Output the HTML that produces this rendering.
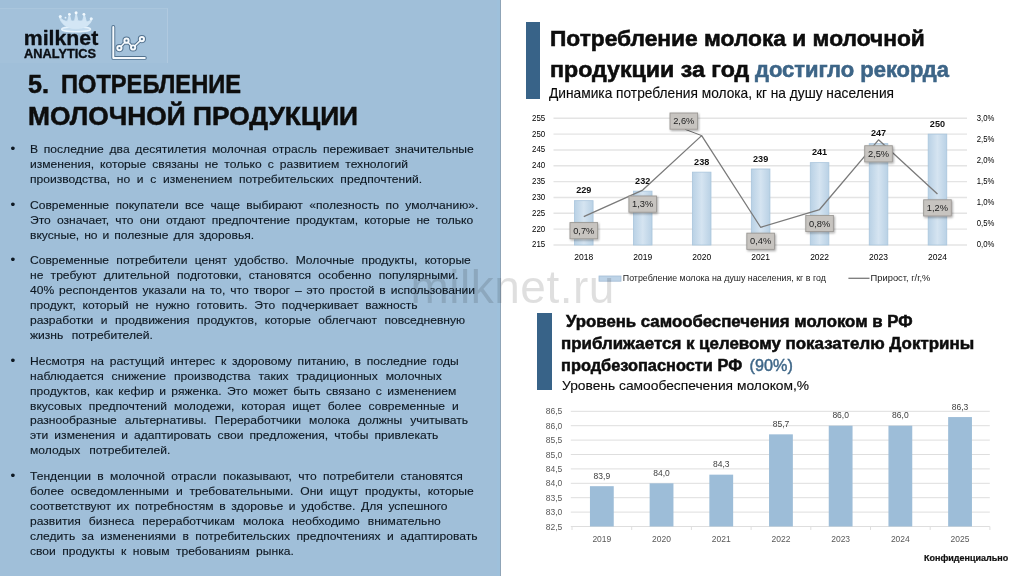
<!DOCTYPE html>
<html lang="ru">
<head>
<meta charset="utf-8">
<title>5. Потребление молочной продукции</title>
<style>
html,body{margin:0;padding:0}
body{width:1024px;height:576px;position:relative;overflow:hidden;background:#fff;font-family:"Liberation Sans",sans-serif;color:#111}
.panel{position:absolute;left:0;top:0;width:501px;height:576px;background:linear-gradient(90deg,#a0bfd9 0,#a0bfd9 497px,#9ec0db 497px,#9ec0db 500px,#8fa4b7 500px,#8fa4b7 501px)}
.logobox{position:absolute;left:0;top:8px;width:167px;height:54px;background:rgba(255,255,255,.03);border-top:1px solid rgba(255,255,255,.08);border-right:1px solid rgba(255,255,255,.14)}
.t{position:absolute;white-space:pre;line-height:1;transform-origin:0 0;display:block}
.t b{font-weight:inherit}
li .t{-webkit-text-stroke:.12px #0e1822;color:#0e1822}
ul,li,h1,h2,p{margin:0;padding:0;list-style:none;font-weight:normal;font-size:inherit}
.bar{position:absolute;background:#386388}
.wm{position:absolute;left:410.5px;top:263.5px;font-size:46px;line-height:1;color:rgba(0,0,0,.125);white-space:pre;letter-spacing:.5px}
</style>
</head>
<body>
<section class="panel">
<div class="logobox"></div>
<svg class="logo" width="180" height="70" viewBox="0 0 180 70" style="position:absolute;left:0;top:0" font-family="Liberation Sans, sans-serif">
<g>
<ellipse cx="76.1" cy="29.2" rx="14.4" ry="2.5" fill="#c3dbee" stroke="#e6f2fb" stroke-width="1.5"/>
<path d="M59.4 16.4 C60.5 24 67.5 28.6 76 28.6 C84.5 28.6 91 25 92 18.6 C90.5 21 88 22 86.3 21.6 L84.3 14.2 L82.6 20.8 C81 21.2 79.2 21.2 77.8 20.8 L76.2 12.6 L74.6 20.8 C73.2 21.2 72 21.2 71 20.9 L69.4 14.2 L67.6 21.3 C64.5 21.5 61.2 19.6 59.4 16.4 Z" fill="#d3e6f5" stroke="#d3e6f5" stroke-width="0.9" stroke-linejoin="round"/>
<circle cx="60.3" cy="16.6" r="1.5" fill="#ecf6fd"/><circle cx="91.2" cy="18.8" r="1.5" fill="#ecf6fd"/><circle cx="69.4" cy="14.3" r="1.4" fill="#f2f9fe"/><circle cx="83.9" cy="14.3" r="1.4" fill="#f2f9fe"/><circle cx="76.1" cy="12.7" r="1.5" fill="#f6fbff"/><circle cx="65.5" cy="17.7" r="0.9" fill="#e6f2fb"/>
</g>
<text x="23.7" y="45.1" font-size="19.7" font-weight="700" fill="#0b0f14" stroke="#0b0f14" stroke-width="0.3" stroke-linejoin="round" textLength="74.6" lengthAdjust="spacingAndGlyphs">milknet</text>
<text x="24.1" y="57.9" font-size="12.2" font-weight="700" fill="#0b0f14" stroke="#0b0f14" stroke-width="0.35" stroke-linejoin="round" textLength="72" lengthAdjust="spacingAndGlyphs">ANALYTICS</text>
<g fill="none" stroke="#52728f" stroke-width="3.9" stroke-linecap="round" stroke-linejoin="round"><path d="M113.3 27 V57.9 H144.8"/><path d="M119.4 48.1 L126.5 40.7 L133.1 47.5 L141.9 39.1" stroke-width="3.4"/></g>
<circle cx="119.4" cy="48.1" r="4.1" fill="#52728f"/>
<circle cx="126.5" cy="40.7" r="4.1" fill="#52728f"/>
<circle cx="133.1" cy="47.5" r="4.1" fill="#52728f"/>
<circle cx="141.9" cy="39.1" r="4.1" fill="#52728f"/>
<g fill="none" stroke="#f6fafd" stroke-linecap="round" stroke-linejoin="round"><path d="M113.3 27 V57.9 H144.8" stroke-width="2"/><path d="M119.4 48.1 L126.5 40.7 L133.1 47.5 L141.9 39.1" stroke-width="1.5"/></g>
<circle cx="119.4" cy="48.1" r="3.1" fill="#f6fafd"/><circle cx="119.4" cy="48.1" r="1.15" fill="#4f6f8b"/>
<circle cx="126.5" cy="40.7" r="3.1" fill="#f6fafd"/><circle cx="126.5" cy="40.7" r="1.15" fill="#4f6f8b"/>
<circle cx="133.1" cy="47.5" r="3.1" fill="#f6fafd"/><circle cx="133.1" cy="47.5" r="1.15" fill="#4f6f8b"/>
<circle cx="141.9" cy="39.1" r="3.1" fill="#f6fafd"/><circle cx="141.9" cy="39.1" r="1.15" fill="#4f6f8b"/>
</svg>
<h1><span class="t" style="left:28.00px;top:71.67px;font-size:25.2px;font-weight:700;color:#0d0d0d;-webkit-text-stroke:0.5px;">5.</span><span class="t" style="left:60.80px;top:71.67px;font-size:25.2px;font-weight:700;color:#0d0d0d;transform:scaleX(0.9388);-webkit-text-stroke:0.5px;">ПОТРЕБЛЕНИЕ</span><span class="t" style="left:28.00px;top:103.67px;font-size:25.2px;font-weight:700;color:#0d0d0d;transform:scaleX(1.0459);-webkit-text-stroke:0.5px;">МОЛОЧНОЙ ПРОДУКЦИИ</span></h1>
<ul>
<li><span class="t" style="left:10.50px;top:142.22px;font-size:13.5px;">•</span><span class="t" style="left:29.70px;top:144.32px;font-size:11.2px;transform:scaleX(1.0800);word-spacing:2.22px;">В последние два десятилетия молочная отрасль переживает значительные</span><span class="t" style="left:29.70px;top:159.32px;font-size:11.2px;transform:scaleX(1.0800);word-spacing:2.52px;">изменения, которые связаны не только с развитием технологий</span><span class="t" style="left:29.70px;top:174.32px;font-size:11.2px;transform:scaleX(1.0800);word-spacing:3.12px;">производства, но и с изменением потребительских предпочтений.</span></li>
<li><span class="t" style="left:10.50px;top:198.02px;font-size:13.5px;">•</span><span class="t" style="left:29.70px;top:200.12px;font-size:11.2px;transform:scaleX(1.0800);word-spacing:2.78px;">Современные покупатели все чаще выбирают «полезность по умолчанию».</span><span class="t" style="left:29.70px;top:215.12px;font-size:11.2px;transform:scaleX(1.0800);word-spacing:2.54px;">Это означает, что они отдают предпочтение продуктам, которые не только</span><span class="t" style="left:29.70px;top:230.02px;font-size:11.2px;transform:scaleX(1.0800);word-spacing:1.50px;">вкусные, но и полезные для здоровья.</span></li>
<li><span class="t" style="left:10.50px;top:252.92px;font-size:13.5px;">•</span><span class="t" style="left:29.70px;top:255.02px;font-size:11.2px;transform:scaleX(1.0800);word-spacing:3.64px;">Современные потребители ценят удобство. Молочные продукты, которые</span><span class="t" style="left:29.70px;top:270.02px;font-size:11.2px;transform:scaleX(1.0800);word-spacing:3.56px;">не требуют длительной подготовки, становятся особенно популярными.</span><span class="t" style="left:29.70px;top:285.02px;font-size:11.2px;transform:scaleX(1.0800);word-spacing:1.45px;">40% респондентов указали на то, что творог – это простой в использовании</span><span class="t" style="left:29.70px;top:300.02px;font-size:11.2px;transform:scaleX(1.0800);word-spacing:3.12px;">продукт, который не нужно готовить. Это подчеркивает важность</span><span class="t" style="left:29.70px;top:315.02px;font-size:11.2px;transform:scaleX(1.0800);word-spacing:3.82px;">разработки и продвижения продуктов, которые облегчают повседневную</span><span class="t" style="left:29.70px;top:330.02px;font-size:11.2px;transform:scaleX(1.0800);word-spacing:4.63px;">жизнь потребителей.</span></li>
<li><span class="t" style="left:10.50px;top:353.92px;font-size:13.5px;">•</span><span class="t" style="left:29.70px;top:356.02px;font-size:11.2px;transform:scaleX(1.0800);word-spacing:2.20px;">Несмотря на растущий интерес к здоровому питанию, в последние годы</span><span class="t" style="left:29.70px;top:370.92px;font-size:11.2px;transform:scaleX(1.0800);word-spacing:4.22px;">наблюдается снижение производства таких традиционных молочных</span><span class="t" style="left:29.70px;top:385.72px;font-size:11.2px;transform:scaleX(1.0800);word-spacing:1.83px;">продуктов, как кефир и ряженка. Это может быть связано с изменением</span><span class="t" style="left:29.70px;top:400.52px;font-size:11.2px;transform:scaleX(1.0800);word-spacing:3.36px;">вкусовых предпочтений молодежи, которая ищет более современные и</span><span class="t" style="left:29.70px;top:415.32px;font-size:11.2px;transform:scaleX(1.0800);word-spacing:4.37px;">разнообразные альтернативы. Переработчики молока должны учитывать</span><span class="t" style="left:29.70px;top:430.22px;font-size:11.2px;transform:scaleX(1.0800);word-spacing:2.60px;">эти изменения и адаптировать свои предложения, чтобы привлекать</span><span class="t" style="left:29.70px;top:445.02px;font-size:11.2px;transform:scaleX(1.0800);word-spacing:5.25px;">молодых потребителей.</span></li>
<li><span class="t" style="left:10.50px;top:468.92px;font-size:13.5px;">•</span><span class="t" style="left:29.70px;top:471.02px;font-size:11.2px;transform:scaleX(1.0800);word-spacing:2.78px;">Тенденции в молочной отрасли показывают, что потребители становятся</span><span class="t" style="left:29.70px;top:486.02px;font-size:11.2px;transform:scaleX(1.0800);word-spacing:3.18px;">более осведомленными и требовательными. Они ищут продукты, которые</span><span class="t" style="left:29.70px;top:501.02px;font-size:11.2px;transform:scaleX(1.0800);word-spacing:2.11px;">соответствуют их потребностям в здоровье и удобстве. Для успешного</span><span class="t" style="left:29.70px;top:516.02px;font-size:11.2px;transform:scaleX(1.0800);word-spacing:4.32px;">развития бизнеса переработчикам молока необходимо внимательно</span><span class="t" style="left:29.70px;top:531.02px;font-size:11.2px;transform:scaleX(1.0800);word-spacing:2.85px;">следить за изменениями в потребительских предпочтениях и адаптировать</span><span class="t" style="left:29.70px;top:546.02px;font-size:11.2px;transform:scaleX(1.0800);word-spacing:2.82px;">свои продукты к новым требованиям рынка.</span></li>
</ul>
</section>
<section class="right">
<div class="bar" style="left:526px;top:22.2px;width:13.9px;height:76.5px"></div>
<h2><span class="t" style="left:549.50px;top:29.38px;font-size:21.4px;font-weight:700;color:#0d0d0d;transform:scaleX(1.0635);-webkit-text-stroke:0.55px;">Потребление молока и молочной</span><span class="t" style="left:549.50px;top:60.48px;font-size:21.4px;font-weight:700;color:#0d0d0d;transform:scaleX(1.0843);-webkit-text-stroke:0.55px;">продукции за год</span><span class="t" style="left:754.60px;top:60.48px;font-size:21.4px;font-weight:700;color:#3d6587;transform:scaleX(1.0262);-webkit-text-stroke:0.55px;">достигло рекорда</span></h2>
<p><span class="t" style="left:549.30px;top:85.81px;font-size:14.4px;color:#0a0a0a;transform:scaleX(0.9546);-webkit-text-stroke:0.12px;">Динамика потребления молока, кг на душу населения</span></p>
<svg class="chart" width="1024" height="576" viewBox="0 0 1024 576" style="position:absolute;left:0;top:0" font-family="Liberation Sans, sans-serif">
<defs><linearGradient id="bg1" x1="0" x2="1" y1="0" y2="0"><stop offset="0" stop-color="#b9d1e5"/><stop offset="0.5" stop-color="#d5e4f1"/><stop offset="1" stop-color="#b9d1e5"/></linearGradient><filter id="sh" x="-20%" y="-20%" width="150%" height="160%"><feDropShadow dx="1" dy="1.2" stdDeviation="0.9" flood-color="#000" flood-opacity="0.35"/></filter></defs>
<g stroke="#e4e4e4" stroke-width="1.4">
<line x1="553.5" x2="967" y1="245.00" y2="245.00"/>
<line x1="553.5" x2="967" y1="229.16" y2="229.16"/>
<line x1="553.5" x2="967" y1="213.32" y2="213.32"/>
<line x1="553.5" x2="967" y1="197.49" y2="197.49"/>
<line x1="553.5" x2="967" y1="181.65" y2="181.65"/>
<line x1="553.5" x2="967" y1="165.81" y2="165.81"/>
<line x1="553.5" x2="967" y1="149.97" y2="149.97"/>
<line x1="553.5" x2="967" y1="134.14" y2="134.14"/>
<line x1="553.5" x2="967" y1="118.30" y2="118.30"/>
</g>
<g font-size="9.1" fill="#000" text-anchor="end">
<text x="545.2" y="247.45" textLength="13.2" lengthAdjust="spacingAndGlyphs">215</text>
<text x="545.2" y="231.61" textLength="13.2" lengthAdjust="spacingAndGlyphs">220</text>
<text x="545.2" y="215.77" textLength="13.2" lengthAdjust="spacingAndGlyphs">225</text>
<text x="545.2" y="199.94" textLength="13.2" lengthAdjust="spacingAndGlyphs">230</text>
<text x="545.2" y="184.10" textLength="13.2" lengthAdjust="spacingAndGlyphs">235</text>
<text x="545.2" y="168.26" textLength="13.2" lengthAdjust="spacingAndGlyphs">240</text>
<text x="545.2" y="152.42" textLength="13.2" lengthAdjust="spacingAndGlyphs">245</text>
<text x="545.2" y="136.59" textLength="13.2" lengthAdjust="spacingAndGlyphs">250</text>
<text x="545.2" y="120.75" textLength="13.2" lengthAdjust="spacingAndGlyphs">255</text>
</g>
<g font-size="9.1" fill="#000">
<text x="976.7" y="247.35" textLength="17.6" lengthAdjust="spacingAndGlyphs">0,0%</text>
<text x="976.7" y="226.23" textLength="17.6" lengthAdjust="spacingAndGlyphs">0,5%</text>
<text x="976.7" y="205.12" textLength="17.6" lengthAdjust="spacingAndGlyphs">1,0%</text>
<text x="976.7" y="184.00" textLength="17.6" lengthAdjust="spacingAndGlyphs">1,5%</text>
<text x="976.7" y="162.88" textLength="17.6" lengthAdjust="spacingAndGlyphs">2,0%</text>
<text x="976.7" y="141.77" textLength="17.6" lengthAdjust="spacingAndGlyphs">2,5%</text>
<text x="976.7" y="120.65" textLength="17.6" lengthAdjust="spacingAndGlyphs">3,0%</text>
</g>
<g fill="url(#bg1)" stroke="#a9c5dc" stroke-width="0.8">
<rect x="574.48" y="200.66" width="18.60" height="44.34"/>
<rect x="633.42" y="191.15" width="18.60" height="53.85"/>
<rect x="692.38" y="172.15" width="18.60" height="72.85"/>
<rect x="751.33" y="168.98" width="18.60" height="76.02"/>
<rect x="810.28" y="162.64" width="18.60" height="82.36"/>
<rect x="869.23" y="143.64" width="18.60" height="101.36"/>
<rect x="928.17" y="134.14" width="18.60" height="110.86"/>
</g>
<g font-size="8.7" font-weight="700" fill="#111" text-anchor="middle">
<text x="583.77" y="193.35" textLength="15.2" lengthAdjust="spacingAndGlyphs">229</text>
<text x="642.72" y="183.85" textLength="15.2" lengthAdjust="spacingAndGlyphs">232</text>
<text x="701.67" y="164.85" textLength="15.2" lengthAdjust="spacingAndGlyphs">238</text>
<text x="760.62" y="161.68" textLength="15.2" lengthAdjust="spacingAndGlyphs">239</text>
<text x="819.58" y="155.34" textLength="15.2" lengthAdjust="spacingAndGlyphs">241</text>
<text x="878.52" y="136.34" textLength="15.2" lengthAdjust="spacingAndGlyphs">247</text>
<text x="937.47" y="126.84" textLength="15.2" lengthAdjust="spacingAndGlyphs">250</text>
</g>
<g font-size="9.1" fill="#000" text-anchor="middle">
<text x="583.77" y="260" textLength="18.9" lengthAdjust="spacingAndGlyphs">2018</text>
<text x="642.72" y="260" textLength="18.9" lengthAdjust="spacingAndGlyphs">2019</text>
<text x="701.67" y="260" textLength="18.9" lengthAdjust="spacingAndGlyphs">2020</text>
<text x="760.62" y="260" textLength="18.9" lengthAdjust="spacingAndGlyphs">2021</text>
<text x="819.58" y="260" textLength="18.9" lengthAdjust="spacingAndGlyphs">2022</text>
<text x="878.52" y="260" textLength="18.9" lengthAdjust="spacingAndGlyphs">2023</text>
<text x="937.47" y="260" textLength="18.9" lengthAdjust="spacingAndGlyphs">2024</text>
</g>
<polyline points="583.77,216.70 642.72,190.10 701.67,135.62 760.62,227.26 819.58,209.52 878.52,139.84 937.47,193.90" fill="none" stroke="#7a7a7a" stroke-width="1.3" stroke-linejoin="round"/>
<line x1="685" y1="129.3" x2="701.67" y2="135.62" stroke="#6e6e6e" stroke-width="1"/>
<g>
<rect x="569.98" y="222.60" width="27.60" height="16.20" fill="#c7c4c0" stroke="#9b9894" stroke-width="0.9" filter="url(#sh)"/>
<text x="583.77" y="233.90" font-size="9.3" fill="#222" text-anchor="middle">0,7%</text>
<rect x="628.92" y="196.00" width="27.60" height="16.20" fill="#c7c4c0" stroke="#9b9894" stroke-width="0.9" filter="url(#sh)"/>
<text x="642.72" y="207.30" font-size="9.3" fill="#222" text-anchor="middle">1,3%</text>
<rect x="670.00" y="113.00" width="27.60" height="16.20" fill="#c7c4c0" stroke="#9b9894" stroke-width="0.9" filter="url(#sh)"/>
<text x="683.80" y="124.30" font-size="9.3" fill="#222" text-anchor="middle">2,6%</text>
<rect x="746.83" y="233.16" width="27.60" height="16.20" fill="#c7c4c0" stroke="#9b9894" stroke-width="0.9" filter="url(#sh)"/>
<text x="760.62" y="244.46" font-size="9.3" fill="#222" text-anchor="middle">0,4%</text>
<rect x="805.78" y="215.42" width="27.60" height="16.20" fill="#c7c4c0" stroke="#9b9894" stroke-width="0.9" filter="url(#sh)"/>
<text x="819.58" y="226.72" font-size="9.3" fill="#222" text-anchor="middle">0,8%</text>
<rect x="864.73" y="145.74" width="27.60" height="16.20" fill="#c7c4c0" stroke="#9b9894" stroke-width="0.9" filter="url(#sh)"/>
<text x="878.52" y="157.04" font-size="9.3" fill="#222" text-anchor="middle">2,5%</text>
<rect x="923.67" y="199.80" width="27.60" height="16.20" fill="#c7c4c0" stroke="#9b9894" stroke-width="0.9" filter="url(#sh)"/>
<text x="937.47" y="211.10" font-size="9.3" fill="#222" text-anchor="middle">1,2%</text>
</g>
<rect x="599" y="276" width="22" height="5.2" fill="#bdd3e7" stroke="#a3bdd6" stroke-width="0.8"/>
<text x="622.8" y="281" font-size="8.6" fill="#1a1a1a" textLength="203" lengthAdjust="spacingAndGlyphs">Потребление молока на душу населения, кг в год</text>
<line x1="848.4" x2="869.5" y1="278.3" y2="278.3" stroke="#7a7a7a" stroke-width="1.3"/>
<text x="870.6" y="281" font-size="8.6" fill="#1a1a1a" textLength="59.8" lengthAdjust="spacingAndGlyphs">Прирост, г/г,%</text>
</svg>
<div class="bar" style="left:537px;top:313px;width:15px;height:76.5px"></div>
<h2><span class="t" style="left:565.50px;top:313.59px;font-size:15.6px;font-weight:700;color:#0d0d0d;transform:scaleX(1.0760);-webkit-text-stroke:0.5px;">Уровень самообеспечения молоком в РФ</span><span class="t" style="left:561.30px;top:335.89px;font-size:15.6px;font-weight:700;color:#0d0d0d;transform:scaleX(1.0848);-webkit-text-stroke:0.5px;">приближается к целевому показателю Доктрины</span><span class="t" style="left:561.30px;top:357.89px;font-size:15.6px;font-weight:700;color:#0d0d0d;transform:scaleX(1.0493);-webkit-text-stroke:0.5px;">продбезопасности РФ</span><span class="t" style="left:749.60px;top:357.39px;font-size:16.2px;color:#3f6788;-webkit-text-stroke:0.45px;">(90%)</span></h2>
<p><span class="t" style="left:561.50px;top:379.50px;font-size:12.4px;color:#0a0a0a;transform:scaleX(1.1136);-webkit-text-stroke:0.12px;">Уровень самообеспечения молоком,%</span></p>
<svg class="chart" width="1024" height="576" viewBox="0 0 1024 576" style="position:absolute;left:0;top:0" font-family="Liberation Sans, sans-serif">
<g stroke="#dedede" stroke-width="1">
<line x1="570.8" x2="989.8" y1="526.50" y2="526.50"/>
<line x1="570.8" x2="989.8" y1="512.10" y2="512.10"/>
<line x1="570.8" x2="989.8" y1="497.70" y2="497.70"/>
<line x1="570.8" x2="989.8" y1="483.30" y2="483.30"/>
<line x1="570.8" x2="989.8" y1="468.90" y2="468.90"/>
<line x1="570.8" x2="989.8" y1="454.50" y2="454.50"/>
<line x1="570.8" x2="989.8" y1="440.10" y2="440.10"/>
<line x1="570.8" x2="989.8" y1="425.70" y2="425.70"/>
<line x1="570.8" x2="989.8" y1="411.30" y2="411.30"/>
<line x1="572.00" x2="572.00" y1="526.50" y2="530.00"/>
<line x1="631.70" x2="631.70" y1="526.50" y2="530.00"/>
<line x1="691.40" x2="691.40" y1="526.50" y2="530.00"/>
<line x1="751.10" x2="751.10" y1="526.50" y2="530.00"/>
<line x1="810.80" x2="810.80" y1="526.50" y2="530.00"/>
<line x1="870.50" x2="870.50" y1="526.50" y2="530.00"/>
<line x1="930.20" x2="930.20" y1="526.50" y2="530.00"/>
<line x1="989.90" x2="989.90" y1="526.50" y2="530.00"/>
</g>
<g font-size="8.5" fill="#595959" text-anchor="end">
<text x="562.3" y="529.50">82,5</text>
<text x="562.3" y="515.10">83,0</text>
<text x="562.3" y="500.70">83,5</text>
<text x="562.3" y="486.30">84,0</text>
<text x="562.3" y="471.90">84,5</text>
<text x="562.3" y="457.50">85,0</text>
<text x="562.3" y="443.10">85,5</text>
<text x="562.3" y="428.70">86,0</text>
<text x="562.3" y="414.30">86,5</text>
</g>
<g fill="#9dbdd8">
<rect x="589.95" y="486.18" width="23.80" height="40.32"/>
<rect x="649.65" y="483.30" width="23.80" height="43.20"/>
<rect x="709.35" y="474.66" width="23.80" height="51.84"/>
<rect x="769.05" y="434.34" width="23.80" height="92.16"/>
<rect x="828.75" y="425.70" width="23.80" height="100.80"/>
<rect x="888.45" y="425.70" width="23.80" height="100.80"/>
<rect x="948.15" y="417.06" width="23.80" height="109.44"/>
</g>
<g font-size="8.5" fill="#404040" text-anchor="middle">
<text x="601.85" y="478.68">83,9</text>
<text x="661.55" y="475.80">84,0</text>
<text x="721.25" y="467.16">84,3</text>
<text x="780.95" y="426.84">85,7</text>
<text x="840.65" y="418.20">86,0</text>
<text x="900.35" y="418.20">86,0</text>
<text x="960.05" y="409.56">86,3</text>
</g>
<g font-size="8.5" fill="#595959" text-anchor="middle">
<text x="601.85" y="542">2019</text>
<text x="661.55" y="542">2020</text>
<text x="721.25" y="542">2021</text>
<text x="780.95" y="542">2022</text>
<text x="840.65" y="542">2023</text>
<text x="900.35" y="542">2024</text>
<text x="960.05" y="542">2025</text>
</g>
</svg>
<p><span class="t" style="left:923.80px;top:553.89px;font-size:8.4px;font-weight:700;color:#111;transform:scaleX(1.0739);-webkit-text-stroke:0.2px;">Конфиденциально</span></p>
</section>
<div class="wm">milknet.ru</div>
</body>
</html>
